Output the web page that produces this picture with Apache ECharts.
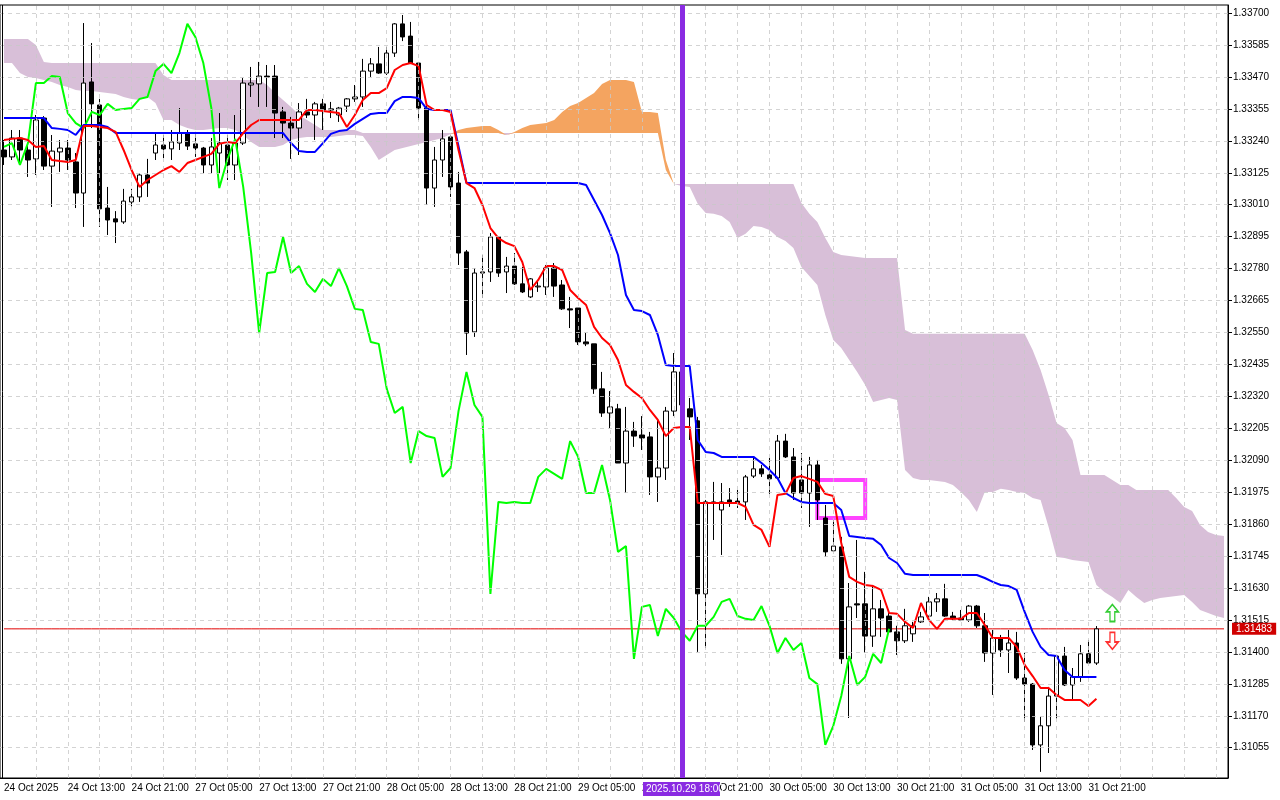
<!DOCTYPE html>
<html><head><meta charset="utf-8">
<script src="https://cdn.jsdelivr.net/npm/echarts@6/dist/echarts.min.js"></script>
<style>html,body{margin:0;padding:0;background:#fff}#c{width:1280px;height:800px}</style>
</head><body><div id="c"></div>
<script>
const xTickLabels = ["24 Oct 2025","24 Oct 13:00","24 Oct 21:00","27 Oct 05:00","27 Oct 13:00","27 Oct 21:00","28 Oct 05:00","28 Oct 13:00","28 Oct 21:00","29 Oct 05:00","29 Oct 13:00","29 Oct 21:00","30 Oct 05:00","30 Oct 13:00","30 Oct 21:00","31 Oct 05:00","31 Oct 13:00","31 Oct 21:00"];
const yTicks = [1.31055,1.31170,1.31285,1.31400,1.31515,1.31630,1.31745,1.31860,1.31975,1.32090,1.32205,1.32320,1.32435,1.32550,1.32665,1.32780,1.32895,1.33010,1.33125,1.33240,1.33355,1.33470,1.33585,1.33700];
const openP = [1.33207,1.33182,1.33250,1.33207,1.33175,1.33322,1.33149,1.33200,1.33214,1.33164,
1.33052,1.33452,1.33369,1.32998,1.32959,1.32948,1.33020,1.33038,1.33117,1.33196,
1.33225,1.33211,1.33232,1.33268,1.33229,1.33214,1.33153,1.33196,1.33225,1.33153,
1.33232,1.33441,1.33445,1.33473,1.33473,1.33344,1.33304,1.33286,1.33344,1.33333,
1.33373,1.33351,1.33333,1.33365,1.33391,1.33398,1.33491,1.33517,1.33484,1.33556,
1.33661,1.33617,1.33520,1.33358,1.33070,1.33171,1.33254,1.33088,1.32840,1.32552,
1.32764,1.32768,1.32894,1.32768,1.32789,1.32725,1.32678,1.32714,1.32714,1.32782,
1.32721,1.32635,1.32638,1.32516,1.32509,1.32347,1.32260,1.32275,1.32080,1.32195,
1.32181,1.32174,1.32030,1.32062,1.32267,1.32408,1.32275,1.32232,1.31609,1.31940,
1.31911,1.31947,1.31943,1.31940,1.32033,1.32059,1.32037,1.32026,1.32159,1.32102,
1.32019,1.31972,1.32073,1.31882,1.31764,1.31778,1.31375,1.31573,1.31573,1.31457,
1.31555,1.31529,1.31472,1.31440,1.31465,1.31508,1.31529,1.31580,1.31591,1.31529,
1.31522,1.31515,1.31565,1.31494,1.31396,1.31447,1.31407,1.31432,1.31306,1.31284,
1.31065,1.31134,1.31241,1.31385,1.31281,1.31310,1.31393,1.31360];
const highP = [1.33243,1.33279,1.33279,1.33225,1.33333,1.33329,1.33261,1.33243,1.33243,1.33196,
1.33664,1.33592,1.33391,1.33074,1.32987,1.33067,1.33067,1.33124,1.33175,1.33268,
1.33261,1.33279,1.33358,1.33279,1.33272,1.33218,1.33250,1.33340,1.33261,1.33333,
1.33466,1.33506,1.33524,1.33513,1.33513,1.33362,1.33326,1.33376,1.33391,1.33380,
1.33391,1.33380,1.33362,1.33394,1.33441,1.33535,1.33538,1.33578,1.33578,1.33664,
1.33693,1.33668,1.33524,1.33365,1.33218,1.33279,1.33261,1.33128,1.32847,1.32782,
1.32829,1.32908,1.32897,1.32822,1.32836,1.32786,1.32746,1.32732,1.32793,1.32800,
1.32739,1.32678,1.32638,1.32548,1.32509,1.32408,1.32339,1.32293,1.32282,1.32228,
1.32249,1.32192,1.32239,1.32282,1.32476,1.32433,1.32314,1.32246,1.31947,1.32012,
1.32008,1.31990,1.31983,1.32037,1.32102,1.32073,1.32098,1.32181,1.32185,1.32134,
1.32116,1.32102,1.32091,1.31929,1.31875,1.31814,1.31648,1.31803,1.31688,1.31641,
1.31587,1.31551,1.31494,1.31555,1.31508,1.31544,1.31598,1.31612,1.31645,1.31544,
1.31551,1.31569,1.31569,1.31540,1.31479,1.31461,1.31479,1.31472,1.31396,1.31288,
1.31166,1.31274,1.31389,1.31418,1.31342,1.31425,1.31443,1.31493];
const lowP = [1.33153,1.33171,1.33153,1.33110,1.33117,1.33135,1.33002,1.33128,1.33135,1.32998,
1.32930,1.33286,1.32930,1.32901,1.32872,1.32941,1.33002,1.33020,1.33038,1.33171,
1.33178,1.33171,1.33207,1.33207,1.33182,1.33124,1.33124,1.33124,1.33099,1.33099,
1.33225,1.33398,1.33362,1.33362,1.33250,1.33250,1.33175,1.33189,1.33322,1.33243,
1.33279,1.33322,1.33308,1.33344,1.33380,1.33362,1.33470,1.33481,1.33477,1.33542,
1.33599,1.33517,1.33315,1.33009,1.33002,1.33110,1.33038,1.32793,1.32469,1.32534,
1.32674,1.32732,1.32750,1.32692,1.32721,1.32692,1.32674,1.32696,1.32685,1.32678,
1.32631,1.32566,1.32505,1.32501,1.32329,1.32246,1.32206,1.32080,1.31972,1.32138,
1.32127,1.31965,1.31940,1.32019,1.32249,1.32271,1.32163,1.31400,1.31414,1.31803,
1.31749,1.31922,1.31918,1.31875,1.32026,1.32030,1.31969,1.32026,1.32098,1.31947,
1.31918,1.31850,1.31875,1.31742,1.31760,1.31357,1.31162,1.31522,1.31396,1.31418,
1.31454,1.31472,1.31389,1.31432,1.31436,1.31504,1.31526,1.31544,1.31526,1.31515,
1.31511,1.31508,1.31486,1.31364,1.31245,1.31382,1.31324,1.31299,1.31148,1.31047,
1.30968,1.31036,1.31159,1.31277,1.31229,1.31292,1.31360,1.31353];
const closeP = [1.33182,1.33250,1.33207,1.33171,1.33315,1.33149,1.33203,1.33214,1.33171,1.33052,
1.33448,1.33373,1.32995,1.32955,1.32948,1.33023,1.33038,1.33117,1.33088,1.33225,
1.33211,1.33236,1.33268,1.33221,1.33214,1.33153,1.33218,1.33232,1.33153,1.33232,
1.33448,1.33448,1.33473,1.33470,1.33340,1.33304,1.33286,1.33344,1.33333,1.33373,
1.33351,1.33355,1.33358,1.33391,1.33398,1.33491,1.33517,1.33484,1.33556,1.33661,
1.33614,1.33520,1.33358,1.33070,1.33171,1.33247,1.33074,1.32836,1.32548,1.32764,
1.32768,1.32894,1.32764,1.32789,1.32725,1.32696,1.32743,1.32717,1.32782,1.32717,
1.32635,1.32631,1.32516,1.32509,1.32347,1.32260,1.32282,1.32080,1.32195,1.32177,
1.32170,1.32030,1.32062,1.32267,1.32408,1.32289,1.32246,1.31609,1.31940,1.31936,
1.31940,1.31936,1.31936,1.32030,1.32059,1.32041,1.32023,1.32159,1.32102,1.31972,
1.31972,1.32073,1.31947,1.31760,1.31781,1.31375,1.31562,1.31569,1.31457,1.31555,
1.31522,1.31472,1.31440,1.31494,1.31494,1.31526,1.31580,1.31591,1.31529,1.31519,
1.31515,1.31565,1.31494,1.31396,1.31450,1.31407,1.31432,1.31306,1.31284,1.31065,
1.31134,1.31241,1.31385,1.31281,1.31310,1.31393,1.31360,1.31483];
const tenkan = [1.33243,1.33247,1.33250,1.33243,1.33218,1.33221,1.33171,1.33167,1.33164,1.33171,
1.33293,1.33293,1.33290,1.33286,1.33272,1.33207,1.33135,1.33074,1.33099,1.33117,
1.33135,1.33149,1.33128,1.33160,1.33171,1.33182,1.33193,1.33229,1.33236,1.33232,
1.33268,1.33297,1.33315,1.33315,1.33315,1.33315,1.33315,1.33315,1.33351,1.33351,
1.33347,1.33344,1.33340,1.33290,1.33333,1.33387,1.33412,1.33412,1.33430,1.33495,
1.33513,1.33520,1.33509,1.33369,1.33351,1.33351,1.33344,1.33207,1.33088,1.33070,
1.33009,1.32926,1.32890,1.32872,1.32861,1.32804,1.32703,1.32739,1.32789,1.32789,
1.32775,1.32703,1.32674,1.32649,1.32570,1.32530,1.32505,1.32451,1.32361,1.32336,
1.32314,1.32271,1.32235,1.32177,1.32206,1.32210,1.32210,1.31936,1.31936,1.31936,
1.31936,1.31936,1.31936,1.31922,1.31857,1.31839,1.31778,1.31965,1.31969,1.32026,
1.32033,1.32023,1.32012,1.31969,1.31961,1.31792,1.31670,1.31652,1.31641,1.31637,
1.31623,1.31540,1.31537,1.31508,1.31486,1.31576,1.31515,1.31483,1.31519,1.31519,
1.31519,1.31540,1.31540,1.31497,1.31450,1.31450,1.31450,1.31418,1.31353,1.31313,
1.31270,1.31270,1.31245,1.31227,1.31227,1.31227,1.31205,1.31231];
const kijun = [1.33322,1.33322,1.33322,1.33322,1.33322,1.33322,1.33286,1.33283,1.33279,1.33261,
1.33297,1.33297,1.33297,1.33290,1.33268,1.33268,1.33268,1.33268,1.33268,1.33268,
1.33268,1.33268,1.33268,1.33268,1.33268,1.33268,1.33268,1.33268,1.33268,1.33268,
1.33268,1.33268,1.33268,1.33268,1.33268,1.33268,1.33232,1.33203,1.33200,1.33200,
1.33232,1.33265,1.33275,1.33279,1.33301,1.33319,1.33337,1.33340,1.33340,1.33383,
1.33398,1.33398,1.33394,1.33355,1.33351,1.33351,1.33351,1.33221,1.33088,1.33088,
1.33088,1.33088,1.33088,1.33088,1.33088,1.33088,1.33088,1.33088,1.33088,1.33088,
1.33088,1.33088,1.33088,1.33081,1.33027,1.32973,1.32908,1.32829,1.32685,1.32631,
1.32627,1.32613,1.32541,1.32433,1.32429,1.32429,1.32429,1.32163,1.32120,1.32116,
1.32102,1.32102,1.32102,1.32102,1.32102,1.32080,1.32055,1.32026,1.31972,1.31954,
1.31940,1.31936,1.31936,1.31936,1.31936,1.31911,1.31817,1.31814,1.31810,1.31807,
1.31785,1.31738,1.31720,1.31681,1.31677,1.31677,1.31677,1.31677,1.31677,1.31677,
1.31677,1.31677,1.31677,1.31666,1.31652,1.31641,1.31637,1.31623,1.31544,1.31472,
1.31418,1.31389,1.31385,1.31335,1.31310,1.31310,1.31310,1.31310];
const spanA = [1.33520,1.33520,1.33484,1.33470,1.33466,1.33459,1.33452,1.33441,1.33434,1.33423,
1.33419,1.33419,1.33416,1.33412,1.33409,1.33398,1.33391,1.33387,1.33398,1.33376,
1.33315,1.33315,1.33297,1.33286,1.33279,1.33279,1.33283,1.33286,1.33286,1.33279,
1.33261,1.33236,1.33218,1.33218,1.33218,1.33225,1.33243,1.33250,1.33254,1.33254,
1.33254,1.33254,1.33257,1.33261,1.33261,1.33257,1.33218,1.33171,1.33189,1.33207,
1.33214,1.33221,1.33229,1.33236,1.33243,1.33250,1.33265,1.33279,1.33286,1.33290,
1.33293,1.33293,1.33279,1.33261,1.33272,1.33286,1.33297,1.33301,1.33304,1.33315,
1.33344,1.33365,1.33376,1.33394,1.33412,1.33445,1.33459,1.33459,1.33459,1.33452,
1.33344,1.33344,1.33340,1.33171,1.33085,1.33077,1.33074,1.33013,1.32980,1.32977,
1.32969,1.32948,1.32890,1.32905,1.32933,1.32930,1.32919,1.32894,1.32879,1.32854,
1.32786,1.32753,1.32721,1.32613,1.32523,1.32494,1.32451,1.32408,1.32361,1.32300,
1.32307,1.32314,1.32307,1.32055,1.32026,1.32019,1.32019,1.32015,1.32012,1.32001,
1.31976,1.31947,1.31904,1.31976,1.31976,1.31987,1.31983,1.31976,1.31972,1.31954,
1.31947,1.31850,1.31742,1.31738,1.31731,1.31727,1.31724,1.31641,1.31616,1.31598,
1.31576,1.31623,1.31598,1.31576,1.31587,1.31594,1.31598,1.31601,1.31605,1.31580,
1.31551,1.31540,1.31529,1.31522];
const spanB = [1.33607,1.33607,1.33607,1.33607,1.33585,1.33524,1.33520,1.33520,1.33520,1.33520,
1.33520,1.33520,1.33520,1.33520,1.33520,1.33520,1.33520,1.33520,1.33520,1.33520,
1.33477,1.33459,1.33459,1.33459,1.33459,1.33459,1.33459,1.33459,1.33459,1.33459,
1.33459,1.33459,1.33459,1.33441,1.33412,1.33387,1.33362,1.33333,1.33315,1.33297,
1.33279,1.33279,1.33279,1.33279,1.33279,1.33268,1.33268,1.33268,1.33268,1.33268,
1.33268,1.33268,1.33268,1.33268,1.33268,1.33268,1.33268,1.33268,1.33268,1.33268,
1.33268,1.33268,1.33268,1.33268,1.33268,1.33268,1.33268,1.33268,1.33268,1.33268,
1.33268,1.33268,1.33268,1.33268,1.33268,1.33268,1.33268,1.33268,1.33268,1.33268,
1.33268,1.33268,1.33268,1.33135,1.33085,1.33085,1.33085,1.33085,1.33085,1.33085,
1.33085,1.33085,1.33085,1.33085,1.33085,1.33085,1.33085,1.33085,1.33085,1.33085,
1.33016,1.32977,1.32948,1.32890,1.32840,1.32829,1.32825,1.32822,1.32818,1.32818,
1.32818,1.32818,1.32818,1.32559,1.32545,1.32545,1.32545,1.32545,1.32545,1.32545,
1.32545,1.32545,1.32545,1.32545,1.32545,1.32545,1.32545,1.32545,1.32545,1.32487,
1.32415,1.32325,1.32224,1.32206,1.32163,1.32037,1.32037,1.32037,1.32037,1.32019,
1.32001,1.32001,1.31983,1.31983,1.31983,1.31983,1.31983,1.31954,1.31922,1.31907,
1.31857,1.31832,1.31821,1.31817];
const currentPrice = 1.31483;
const CHIKOU_SHIFT = 26, VLINE_BAR = 85, TOTAL_BARS = 154;

const N = TOTAL_BARS;
const cats = Array.from({length:N},(_,i)=>String(i));
const pad = a => a.concat(Array(N-a.length).fill(null));
const candle = openP.map((o,i)=>[o,closeP[i],lowP[i],highP[i]]);
const chikou = pad(closeP.slice(CHIKOU_SHIFT));
const isP = i => spanA[i] <= spanB[i];
const pBase=[],pBand=[],oBase=[],oBand=[];
for(let i=0;i<N;i++){
  const lo=Math.min(spanA[i],spanB[i]), d=Math.abs(spanA[i]-spanB[i]);
  const nP = isP(i)||(i>0&&isP(i-1))||(i<N-1&&isP(i+1));
  const nO = !isP(i)||(i>0&&!isP(i-1))||(i<N-1&&!isP(i+1));
  pBase.push(nP?lo:null); pBand.push(nP?(isP(i)?d:0):null);
  oBase.push(nO?lo:null); oBand.push(nO?(!isP(i)?d:0):null);
}
const FONT='Liberation Sans';
const gridLines=[];
yTicks.forEach(v=>gridLines.push([{coord:[cats[0],v],x:0},{coord:[cats[N-1],v],x:1228}]));
for(let i=4;i<N;i+=4) gridLines.push({xAxis:cats[i]});
const line=(name,data,color,z,w)=>({type:'line',name,data,showSymbol:false,symbol:'none',z,lineStyle:{color,width:w||2},itemStyle:{color},animation:false,connectNulls:false,silent:true});
const arrowUp='path://M5,0 L10,6 L7,6 L7,14 L3,14 L3,6 L0,6 Z';
const arrowDn='path://M3,0 L7,0 L7,8 L10,8 L5,14 L0,8 L3,8 Z';
const priceSeries = line('price',Array(N).fill(currentPrice),'#e00000',3,1);
priceSeries.endLabel={show:true,formatter:currentPrice.toFixed(5),color:'#fff',backgroundColor:'#d00000',fontSize:10,fontFamily:FONT,padding:[1,4,1,4],distance:8};
const chart=echarts.init(document.getElementById('c'));
chart.setOption({
  animation:false,
  grid:{left:-2,right:52,top:5,bottom:22,show:true,borderColor:'#000',borderWidth:1},
  xAxis:{type:'category',data:cats,boundaryGap:true,
    axisLine:{lineStyle:{color:'#000'}},
    axisTick:{alignWithLabel:true,interval:(i)=>i%8===0,length:5,lineStyle:{color:'#000'}},
    axisLabel:{interval:(i)=>i%8===0,align:'left',margin:5,color:'#000',fontSize:10,fontFamily:FONT,
      formatter:(v,i)=>xTickLabels[i/8]||''},
    splitLine:{show:false}},
  yAxis:{type:'value',position:'right',min:1.30946,max:1.33729,scale:true,
    axisLine:{show:true,lineStyle:{color:'#000'}},
    axisTick:{show:true,customValues:yTicks,length:4,lineStyle:{color:'#000'}},
    axisLabel:{customValues:yTicks,formatter:v=>v.toFixed(5),color:'#000',fontSize:10,fontFamily:FONT,margin:5},
    splitLine:{show:false}},
  series:[
    {type:'line',data:pBase,stack:'p',showSymbol:false,lineStyle:{opacity:0},z:1,silent:true},
    {type:'line',data:pBand,stack:'p',showSymbol:false,lineStyle:{opacity:0},areaStyle:{color:'#d8bfd8',opacity:1},z:1,silent:true},
    {type:'line',data:oBase,stack:'o',showSymbol:false,lineStyle:{opacity:0},z:1,silent:true},
    {type:'line',data:oBand,stack:'o',showSymbol:false,lineStyle:{opacity:0},areaStyle:{color:'#f4a460',opacity:1},z:1,silent:true},
    {type:'line',data:Array(N).fill(null),z:2,silent:true,
      markLine:{silent:true,symbol:'none',precision:5,label:{show:false},lineStyle:{color:'#c8c8c8',type:[4,4],width:1,opacity:0.8},data:gridLines}},
    {type:'candlestick',data:candle,barWidth:5,z:3,
      itemStyle:{color:'#ffffff',color0:'#000000',borderColor:'#000000',borderColor0:'#000000',borderWidth:1}},
    priceSeries,
    line('chikou',chikou,'#00ff00',4),
    line('kijun',pad(kijun),'#0000ff',4),
    line('tenkan',pad(tenkan),'#ff0000',4),
    {type:'line',data:Array(N).fill(null),z:6,silent:true,itemStyle:{color:'#8a2be2'},
      markLine:{silent:true,symbol:'none',lineStyle:{color:'#8a2be2',width:5,type:'solid',opacity:1},label:{show:false},data:[{xAxis:cats[VLINE_BAR]}]},
      markArea:{silent:true,itemStyle:{color:'rgba(0,0,0,0)',borderColor:'#ff44ff',borderWidth:4},
        data:[[{xAxis:cats[102],yAxis:1.32019},{xAxis:cats[108],yAxis:1.31882}]]},
      markPoint:{silent:true,label:{show:false},data:[
        {coord:[cats[139],1.31540],symbol:arrowUp,symbolSize:[12,17],itemStyle:{color:'#ffffff',borderColor:'#33cc33',borderWidth:1.5}},
        {coord:[cats[139],1.31440],symbol:arrowDn,symbolSize:[12,17],itemStyle:{color:'#ffffff',borderColor:'#ff3030',borderWidth:1.5}}]}}
  ],
  graphic:[
    {type:'line',shape:{x1:2.5,y1:5,x2:2.5,y2:778},style:{stroke:'#000',lineWidth:1},z:100},
    {type:'rect',shape:{x:643,y:782,width:77,height:14},style:{fill:'#8a2be2'},z:100},
    {type:'text',x:646,y:784,style:{text:'2025.10.29 18:00',fill:'#fff',font:'10px "Liberation Sans"'},z:101}
  ]
});
</script></body></html>
